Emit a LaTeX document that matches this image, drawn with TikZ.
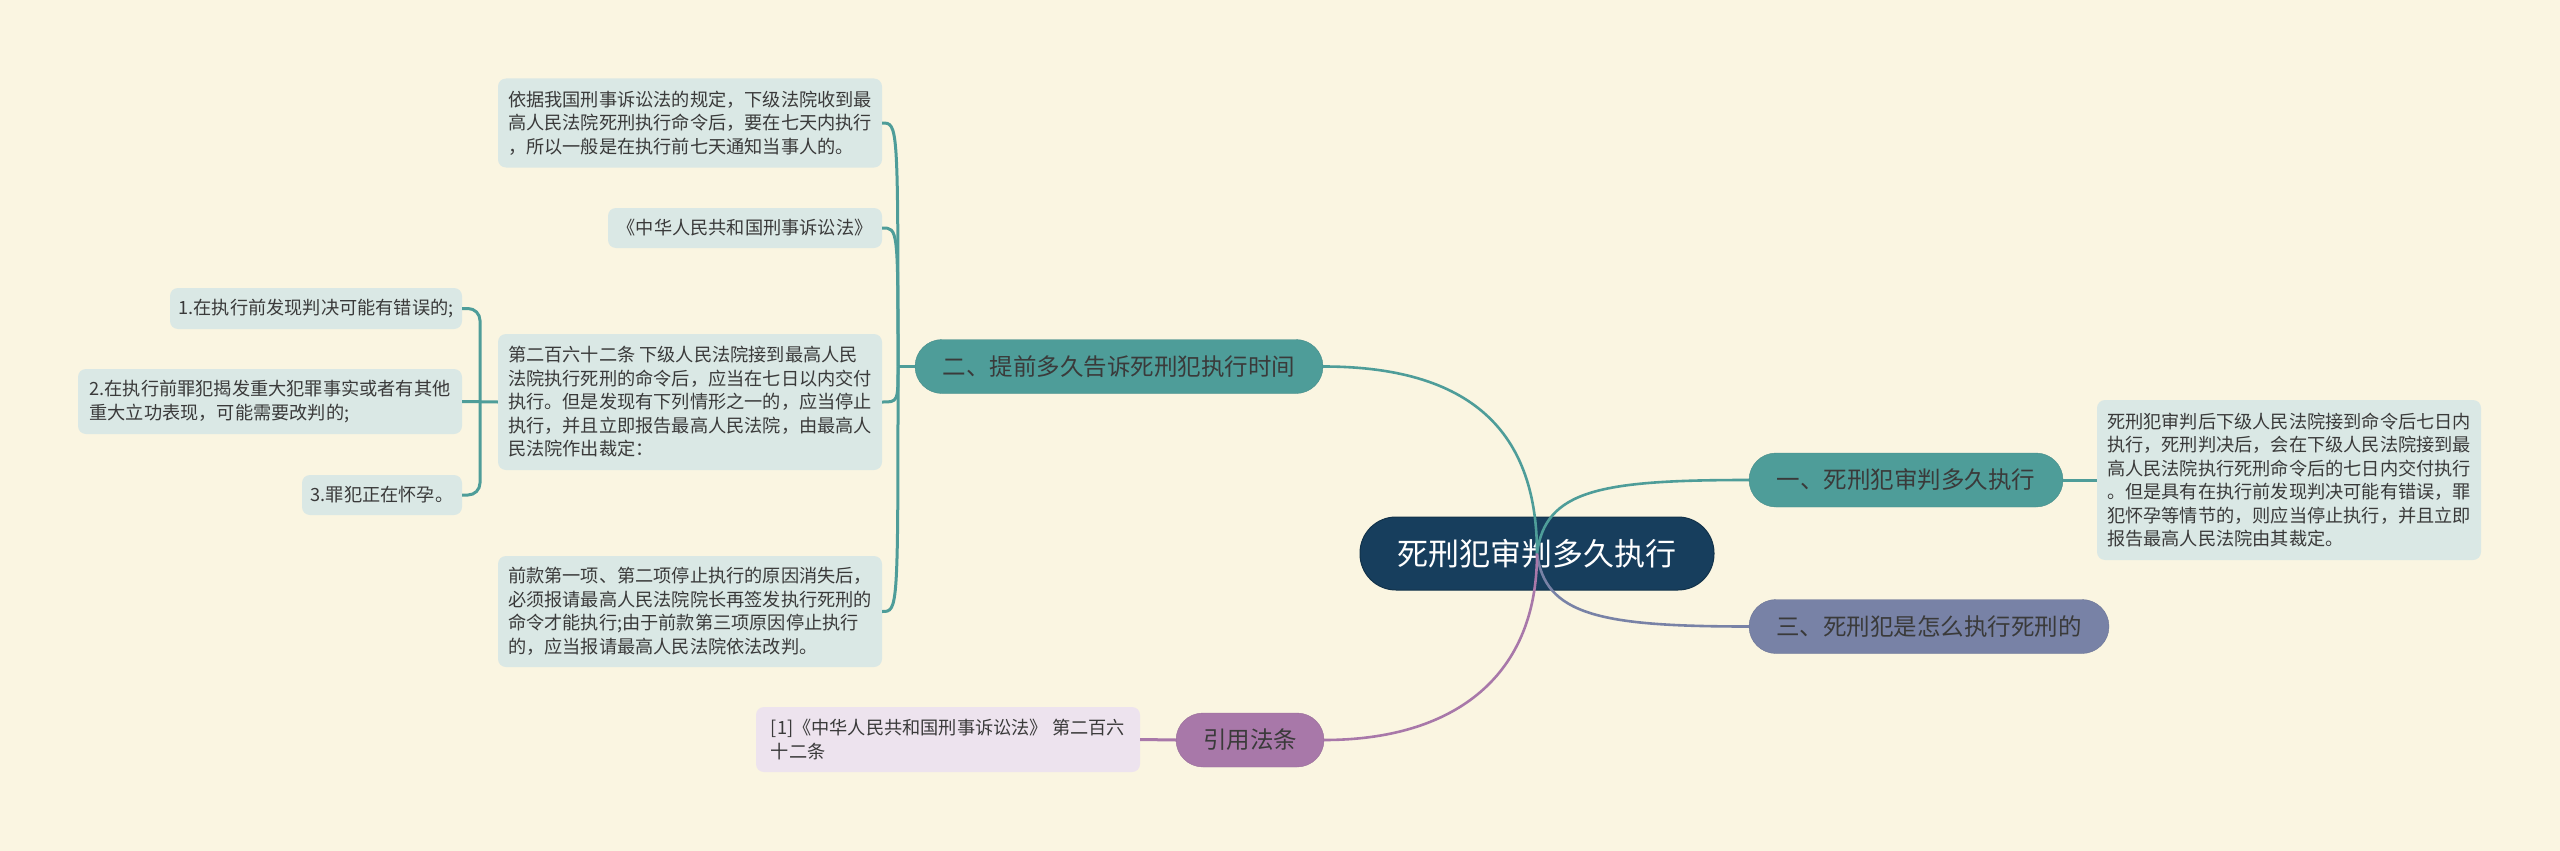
\documentclass[tikz,border=0pt]{standalone}
\usepackage{fontspec}
\newfontfamily\cjk{Noto Sans CJK SC}
\definecolor{hintergrund}{HTML}{FAF5E1}
\definecolor{wurzelfarbe}{HTML}{173E5D}
\definecolor{tuerkis}{HTML}{4E9D99}
\definecolor{blattfarbe}{HTML}{DAE8E5}
\definecolor{graublau}{HTML}{7882A6}
\definecolor{lila}{HTML}{A878A9}
\definecolor{zitatfarbe}{HTML}{EDE3EE}
\definecolor{textgrau}{HTML}{3A3A3A}

\begin{document}
\begin{tikzpicture}[x=1pt, y=-1pt,
	blatt/.style={fill=blattfarbe, rounded corners=8pt, inner sep=0pt,
		align=left, text=textgrau, font=\cjk\fontsize{18.2}{23.5}\selectfont},
	ast/.style={rounded corners=27pt, inner sep=0pt, minimum height=54pt,
		text=textgrau, font=\cjk\fontsize{23.5}{28}\selectfont},
	kante/.style={line width=2.6pt},
	klammer/.style={line width=3pt, draw=tuerkis}]
	% Hintergrund
	\fill[hintergrund] (0, 0) rectangle (2560, 851);

	% Mitte und Aeste
	\node[fill=wurzelfarbe, draw=wurzelfarbe!80!black, line width=1pt,
		rounded corners=36pt, inner sep=0pt, minimum width=354pt,
		minimum height=73pt, text=white,
		font=\cjk\fontsize{31}{36}\selectfont] (wurzel) at (1537, 553.5)
		{死刑犯审判多久执行};
	\node[ast, fill=tuerkis, draw=tuerkis!90!black, minimum width=408pt]
		(ast2) at (1119, 366.5) {二、提前多久告诉死刑犯执行时间};
	\node[ast, fill=tuerkis, draw=tuerkis!90!black, minimum width=314pt]
		(ast1) at (1906, 480) {一、死刑犯审判多久执行};
	\node[ast, fill=graublau, draw=graublau!90!black, minimum width=360pt]
		(ast3) at (1929, 626.5) {三、死刑犯是怎么执行死刑的};
	\node[ast, fill=lila, draw=lila!90!black, minimum width=148pt]
		(ast4) at (1250, 740) {引用法条};

	% Blaetter links
	\node[blatt, minimum width=384pt, minimum height=89pt] (blatt1)
		at (690, 123) {依据我国刑事诉讼法的规定，下级法院收到最\\
		高人民法院死刑执行命令后，要在七天内执行\\
		，所以一般是在执行前七天通知当事人的。};
	\node[blatt, minimum width=274pt, minimum height=40pt] (blatt2)
		at (745, 228) {《中华人民共和国刑事诉讼法》};
	\node[blatt, minimum width=384pt, minimum height=136pt] (blatt3)
		at (690, 402) {第二百六十二条 下级人民法院接到最高人民\\
		法院执行死刑的命令后，应当在七日以内交付\\
		执行。但是发现有下列情形之一的，应当停止\\
		执行，并且立即报告最高人民法院，由最高人\\
		民法院作出裁定：};
	\node[blatt, minimum width=384pt, minimum height=111pt] (blatt4)
		at (690, 611.5) {前款第一项、第二项停止执行的原因消失后，\\
		必须报请最高人民法院院长再签发执行死刑的\\
		命令才能执行;由于前款第三项原因停止执行\\
		的，应当报请最高人民法院依法改判。};

	% Unterpunkte
	\node[blatt, minimum width=292pt, minimum height=41pt] (punkt1)
		at (316, 308.5) {1.在执行前发现判决可能有错误的;};
	\node[blatt, minimum width=384pt, minimum height=65pt] (punkt2)
		at (270, 401.5) {2.在执行前罪犯揭发重大犯罪事实或者有其他\\
		重大立功表现，可能需要改判的;};
	\node[blatt, minimum width=160pt, minimum height=40pt] (punkt3)
		at (382, 495) {3.罪犯正在怀孕。};

	% Blatt rechts und Zitat
	\node[blatt, minimum width=384pt, minimum height=160pt] (rechts)
		at (2289, 480) {死刑犯审判后下级人民法院接到命令后七日内\\
		执行，死刑判决后，会在下级人民法院接到最\\
		高人民法院执行死刑命令后的七日内交付执行\\
		。但是具有在执行前发现判决可能有错误，罪\\
		犯怀孕等情节的，则应当停止执行，并且立即\\
		报告最高人民法院由其裁定。};
	\node[blatt, fill=zitatfarbe, minimum width=384pt, minimum height=65pt]
		(zitat) at (948, 739.5) {[1]《中华人民共和国刑事诉讼法》 第二百六\\
		十二条};

	% Klammern
	\coordinate (k1) at (898, 366.5);
	\draw[klammer] (ast2.west) -- (k1);
	\foreach \b in {blatt1, blatt2, blatt3, blatt4}
		\draw[klammer] (k1) .. controls (k1 |- \b.east) .. (\b.east);
	\coordinate (k2) at (480, 402);
	\draw[klammer] (blatt3.west) -- (punkt2.east);
	\draw[klammer, rounded corners=12pt] (k2) |- (punkt1.east);
	\draw[klammer, rounded corners=12pt] (k2) |- (punkt3.east);
	\draw[klammer] (ast1.east) -- (rechts.west);
	\draw[kante, draw=lila, line width=3pt] (zitat.east) -- (ast4.west);

	% Kanten von der Mitte
	\coordinate (mitte) at (wurzel.center);
	\draw[kante, draw=tuerkis] (mitte) .. controls (1537, 440) and
		(1480, 366.5) .. (ast2.east);
	\draw[kante, draw=tuerkis] (mitte) .. controls (1545, 490) and
		(1600, 480) .. (ast1.west);
	\draw[kante, draw=graublau] (mitte) .. controls (1545, 615) and
		(1600, 626.5) .. (ast3.west);
	\draw[kante, draw=lila] (mitte) .. controls (1537, 680) and
		(1450, 740) .. (ast4.east);
\end{tikzpicture}
\end{document}
